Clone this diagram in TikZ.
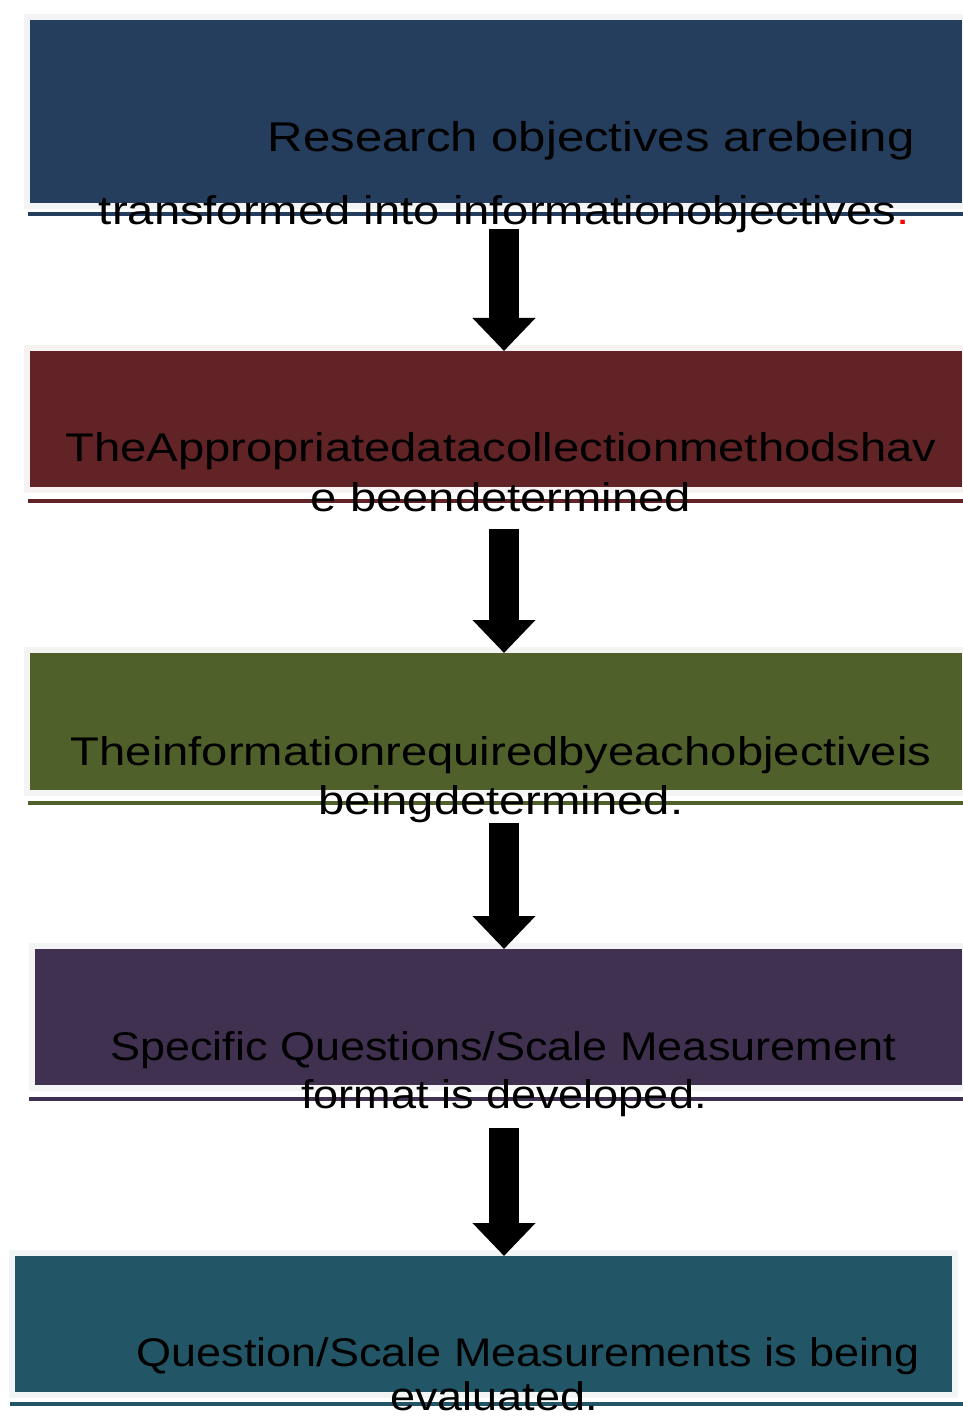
\documentclass[tikz,border=0pt]{standalone}
\usepackage{fontspec}
\usepackage{xcolor}
\newfontfamily\stepfont{Liberation Sans}[FakeStretch=1.18]
\newfontfamily\narrowfont{Liberation Sans}[FakeStretch=1.125]
\usetikzlibrary{arrows.meta, positioning, calc}
\definecolor{objblue}{RGB}{37,62,94}
\definecolor{methred}{RGB}{97,35,38}
\definecolor{infogreen}{RGB}{79,96,43}
\definecolor{formpurple}{RGB}{64,49,81}
\definecolor{evalteal}{RGB}{34,86,102}
\tikzset{
    stage/.style={
        rectangle,
        fill=#1,
        preaction={draw=#1!6, line width=6pt},
        inner sep=0pt,
        anchor=north west,
    },
    underrule/.style={
        draw=#1,
        line width=1.8pt,
    },
    steptext/.style={
        font=\stepfont\fontsize{20}{24}\selectfont,
        text=black,
        inner sep=0pt,
        anchor=base,
    },
    narrowtext/.style={
        steptext,
        font=\narrowfont\fontsize{20}{24}\selectfont,
    },
    flow/.style={
        draw=black,
        line width=15pt,
        -{Triangle[width=30.5pt,length=16.5pt]},
    },
}

\begin{document}
\begin{tikzpicture}[x=0.5pt,y=-0.5pt]
          \useasboundingbox (0,0) rectangle (962,1416);
          \coordinate (axis) at (504,0);

          % stages
          \node [stage=objblue, minimum width=466pt, minimum height=91.5pt] (objective) at (30,20) {};
          \node [stage=methred, minimum width=466pt, minimum height=68pt] (method) at (30,351) {};
          \node [stage=infogreen, minimum width=466pt, minimum height=68.5pt] (info) at (30,653) {};
          \node [stage=formpurple, minimum width=463.5pt, minimum height=68pt] (format) at (35,949) {};
          \node [stage=evalteal, minimum width=468.5pt, minimum height=68pt] (evaluate) at (15,1256) {};

          \draw [underrule=objblue] ($(objective.south west)+(-2,10)$) -- ($(objective.south east)+(0,10)$);
          \draw [underrule=methred] ($(method.south west)+(-2,13)$) -- ($(method.south east)+(0,13)$);
          \draw [underrule=infogreen] ($(info.south west)+(-2,12)$) -- ($(info.south east)+(0,12)$);
          \draw [underrule=formpurple] ($(format.south west)+(-6,13)$) -- ($(format.south east)+(0,13)$);
          \draw [underrule=evalteal] ($(evaluate.south west)+(-5,11)$) -- ($(evaluate.south east)+(10,11)$);

          % texts
          \node [steptext, font=\stepfont\fontsize{20.8}{24}\selectfont, anchor=base east] (objective-a) at (915,152) {Research objectives arebeing};
          \node [steptext, anchor=base east] (objective-b) at (910,225) {transformed into informationobjectives\textcolor{red}{.}};
          \node [steptext] (method-a) at (501,462) {TheAppropriatedatacollectionmethodshav};
          \node [steptext] (method-b) at (501,511) {e beendetermined};
          \node [steptext] (info-a) at (501,765) {Theinformationrequiredbyeachobjectiveis};
          \node [steptext] (info-b) at (501,814) {beingdetermined.};
          \node [narrowtext] (format-a) at (503,1060) {Specific Questions/Scale Measurement};
          \node [narrowtext] (format-b) at (504,1108) {format is developed.};
          \node [narrowtext] (evaluate-a) at (528,1366) {Question/Scale Measurements is being};
          \node [narrowtext] (evaluate-b) at (494,1410) {evaluated.};

          % arrows
          \draw [flow] ($(objective.south -| axis)+(0,25)$) -- (method.north -| axis);
          \draw [flow] ($(method.south -| axis)+(0,41)$) -- (info.north -| axis);
          \draw [flow] ($(info.south -| axis)+(0,32)$) -- (format.north -| axis);
          \draw [flow] ($(format.south -| axis)+(0,42)$) -- (evaluate.north -| axis);
\end{tikzpicture}
\end{document}
